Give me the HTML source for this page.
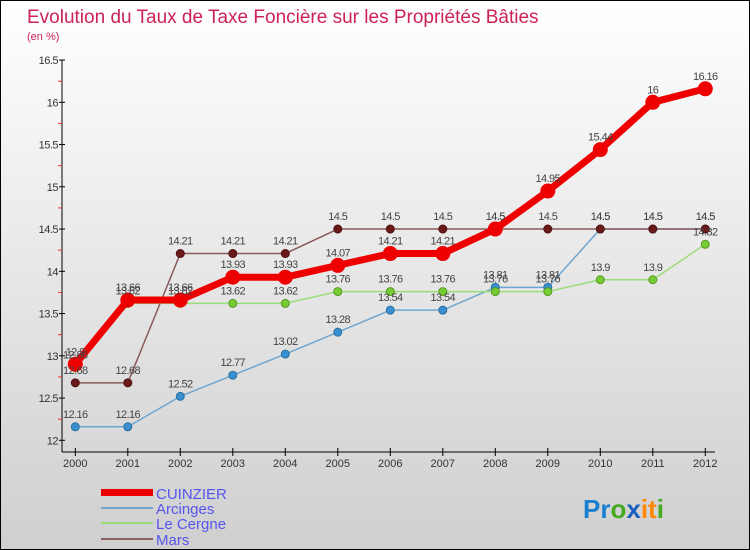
<!DOCTYPE html>
<html><head><meta charset="utf-8"><style>
html,body{margin:0;padding:0}
body{width:750px;height:550px;overflow:hidden;font-family:"Liberation Sans",sans-serif}
#wrap{position:relative;width:748px;height:548px;border:1px solid #000;background:linear-gradient(#ffffff,#cfcfcf)}
</style></head><body>
<div id="wrap">
<svg id="chart" width="748" height="548" style="position:absolute;left:0;top:0">
<text x="26" y="22" font-size="19" fill="#cc2255">Evolution du Taux de Taxe Foncière sur les Propriétés Bâties</text>
<text x="26" y="39" font-size="11" fill="#cc2255">(en %)</text>
<g id="axes"></g><g id="series"></g><g id="labels"></g>
<g>
<rect x="100" y="488" width="52" height="7" fill="#ee0000"/>
<text x="155" y="498" font-size="15" fill="#5555ee">CUINZIER</text>
<line x1="100" y1="507" x2="152" y2="507" stroke="#6fa6d0" stroke-width="2"/>
<text x="155" y="513" font-size="15" fill="#5555ee">Arcinges</text>
<line x1="100" y1="522" x2="152" y2="522" stroke="#99dd77" stroke-width="2"/>
<text x="155" y="528" font-size="15" fill="#5555ee">Le Cergne</text>
<line x1="100" y1="538" x2="152" y2="538" stroke="#8b6060" stroke-width="2"/>
<text x="155" y="544" font-size="15" fill="#5555ee">Mars</text>
</g>
<text x="582" y="517" font-size="26" font-weight="bold"><tspan fill="#1a7fd0">Pr</tspan><tspan fill="#44aa22">o</tspan><tspan fill="#1a5fc0">x</tspan><tspan fill="#ff8800">it</tspan><tspan fill="#44aa22">i</tspan></text>
</svg>
</div>
<script>
const years=[2000,2001,2002,2003,2004,2005,2006,2007,2008,2009,2010,2011,2012];
const cuinzier=[12.9,13.66,13.66,13.93,13.93,14.07,14.21,14.21,14.5,14.95,15.44,16,16.16];
const arcinges=[12.16,12.16,12.52,12.77,13.02,13.28,13.54,13.54,13.81,13.81,14.5,14.5,14.5];
const leCergne=[12.86,13.62,13.62,13.62,13.62,13.76,13.76,13.76,13.76,13.76,13.9,13.9,14.32];
const mars=[12.68,12.68,14.21,14.21,14.21,14.5,14.5,14.5,14.5,14.5,14.5,14.5,14.5];
const yTicks=[12,12.5,13,13.5,14,14.5,15,15.5,16,16.5];
const NS='http://www.w3.org/2000/svg';
const xS=i=>74.3+i*52.5;
const yS=v=>439.3-(v-12)*84.5;
function mk(p,t,a){const e=document.createElementNS(NS,t);for(const k in a)e.setAttribute(k,a[k]);p.appendChild(e);return e;}
const ax=document.getElementById('axes'),sg=document.getElementById('series'),lg=document.getElementById('labels');
let yl=mk(ax,'line',{x1:61,y1:59,x2:61,y2:451,stroke:'#000'});


let xl=mk(ax,'line',{x1:61,y1:451,x2:714,y2:451,stroke:'#000'});


for(let v=12.25;v<16.5;v+=0.5){const m=mk(ax,'line',{x1:57,y1:yS(v),x2:61,y2:yS(v),stroke:'#e33'});

}
yTicks.forEach(v=>{mk(ax,'line',{x1:58,y1:yS(v),x2:64,y2:yS(v),stroke:'#000'});
const t=mk(ax,'text',{x:57,y:yS(v)+4,'font-size':11,'text-anchor':'end',fill:'#333','letter-spacing':'-0.5'});t.textContent=v;

});
years.forEach((y,i)=>{mk(ax,'line',{x1:xS(i),y1:447,x2:xS(i),y2:455,stroke:'#000'});
const t=mk(ax,'text',{x:xS(i),y:466,'font-size':11,'text-anchor':'middle',fill:'#333'});t.textContent=y;

});
function draw(vals,name,color,dot,w,r,stroke){
const pts=vals.map((v,i)=>xS(i)+','+yS(v)).join(' ');
const pl=mk(sg,'polyline',{points:pts,fill:'none',stroke:color,'stroke-width':w,'stroke-linejoin':'round'});


vals.forEach((v,i)=>{const c=mk(sg,'circle',{cx:xS(i),cy:yS(v),r:r,fill:dot,stroke:stroke,'stroke-width':1});


const t=mk(lg,'text',{x:xS(i),y:yS(v)-9,'font-size':11,'text-anchor':'middle',fill:'#444','letter-spacing':'-0.6'});t.textContent=v;

});}
draw(arcinges,'arcinges','#6fa6d0','#3a8fd0',1.5,4,'#2a6fa0');
draw(mars,'mars','#8b5a5a','#6b1a1a',1.5,4,'#501010');
draw(leCergne,'le-cergne','#99dd77','#77cc33',1.5,4,'#559922');
draw(cuinzier,'cuinzier','#ee0000','#ee0000',7,7,'#ee0000');
</script>
</body></html>
